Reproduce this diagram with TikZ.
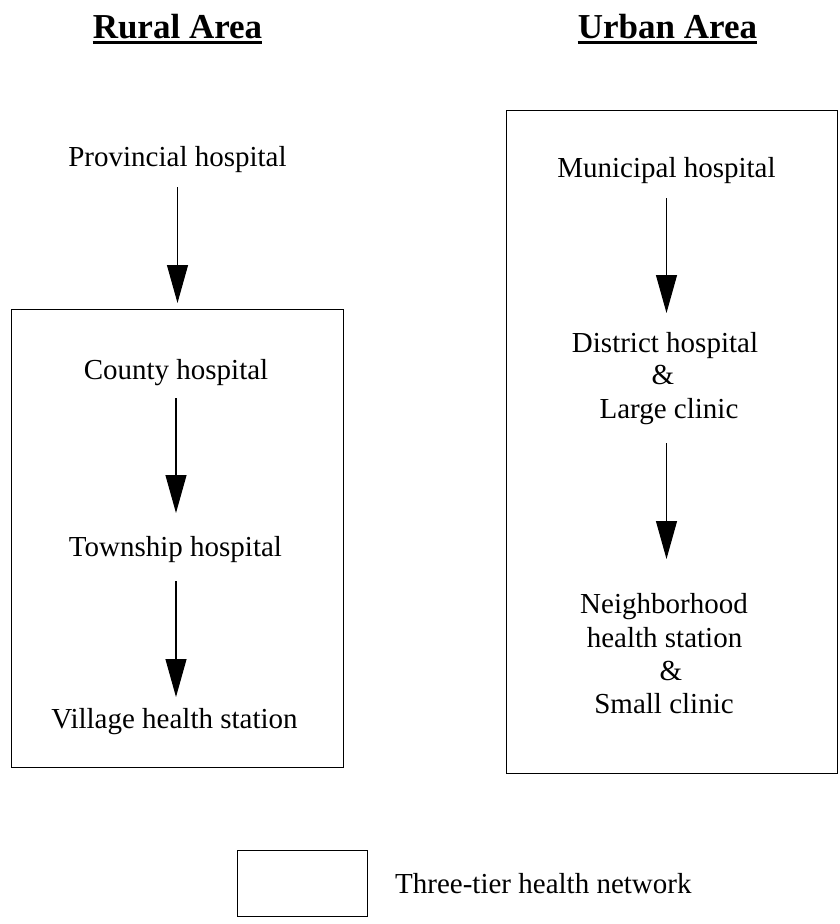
\documentclass[tikz,border=0pt]{standalone}
\usepackage{fontspec}
\setmainfont{Liberation Serif}
\usetikzlibrary{arrows.meta}
\begin{document}
\begin{tikzpicture}[x=1pt,y=-1pt,
 lbl/.style={font=\fontsize{29}{33}\selectfont, inner sep=0pt, anchor=base},
 headtxt/.style={font=\fontsize{35}{40}\selectfont\bfseries, inner sep=0pt, anchor=base},
 frame/.style={draw, line width=1.4pt, inner sep=0pt, anchor=north west},
 arr/.style={line width=1.1pt, -{Triangle[length=38pt,width=21pt]}},
 uline/.style={line width=2.6pt}]
\useasboundingbox (0,0) rectangle (839,924);
% headings
\node[headtxt] (rural) at (177.5,38) {Rural Area};
\node[headtxt] (urban) at (667.5,38) {Urban Area};
\draw[uline] ([yshift=-4.5pt]rural.base west) -- ([yshift=-4.5pt]rural.base east);
\draw[uline] ([yshift=-4.5pt]urban.base west) -- ([yshift=-4.5pt]urban.base east);
% frames
\node[frame, minimum width=332pt, minimum height=458pt] (lbox) at (11,309) {};
\node[frame, minimum width=331pt, minimum height=663pt] (ubox) at (506,110) {};
\node[frame, minimum width=130pt, minimum height=66pt] (legbox) at (237,850) {};
% rural
\node[lbl] (prov) at (177.5,166) {Provincial hospital};
\node[lbl] (county) at (176,379) {County hospital};
\node[lbl] (town) at (175.5,556) {Township hospital};
\node[lbl] (village) at (174.5,728) {Village health station};
% urban
\node[lbl] (muni) at (666.5,177) {Municipal hospital};
\node[lbl] (dist1) at (665,352) {District hospital};
\node[lbl] (dist2) at (663,384) {\&};
\node[lbl] (dist3) at (669,418) {Large clinic};
\node[lbl] (nb1) at (664,613) {Neighborhood};
\node[lbl] (nb2) at (664.5,647) {health station};
\node[lbl] (nb3) at (671,680) {\&};
\node[lbl] (nb4) at (664,713) {Small clinic};
% legend
\node[lbl, anchor=base west] (legtext) at (395,893) {Three-tier health network};
% arrows
\draw[arr] ([yshift=-21pt]prov.base) -- ([yshift=6pt]prov.base |- lbox.north);
\draw[arr] ([yshift=-19pt]county.base) -- ([yshift=43pt]county.base |- town.base);
\draw[arr] ([yshift=-25pt]town.base -| county.base) -- ([yshift=31pt]county.base |- village.base);
\draw[arr] ([yshift=-21pt]muni.base) -- ([yshift=39pt]muni.base |- dist1.base);
\draw[arr] ([yshift=-25pt]dist3.base -| muni.base) -- ([yshift=54pt]muni.base |- nb1.base);
\end{tikzpicture}
\end{document}
